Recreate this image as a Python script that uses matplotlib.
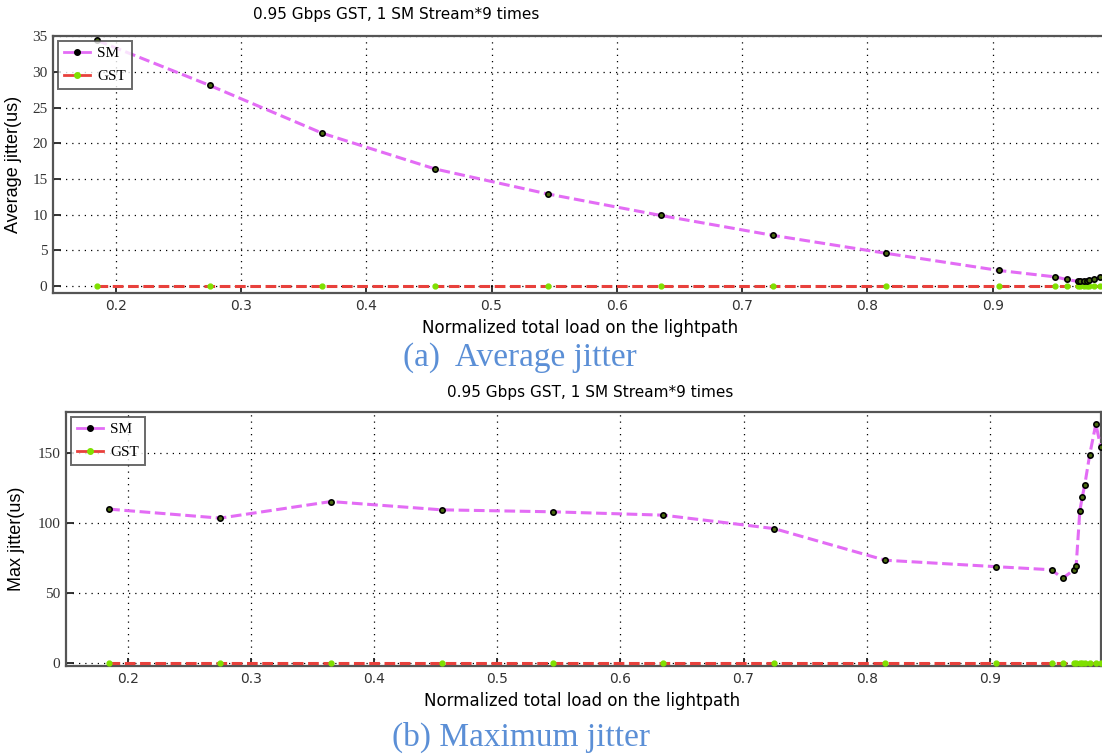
# Average / max jitter vs normalized load, SM vs GST
import matplotlib
matplotlib.use('Agg')
from matplotlib import pyplot as plt
from matplotlib.lines import Line2D

load = [0.185, 0.275, 0.365, 0.455, 0.545, 0.635, 0.725, 0.815, 0.905,
        0.950, 0.959, 0.968, 0.970, 0.973, 0.975, 0.977, 0.981, 0.986, 0.990]

avg_sm = [34.4, 28.1, 21.4, 16.4, 12.9, 9.9, 7.1, 4.6, 2.2,
          1.3, 0.94, 0.66, 0.66, 0.70, 0.74, 0.84, 0.98, 1.3, 1.6]
avg_gst = [0.0] * len(load)

max_sm = [109.8, 103.4, 115.2, 109.3, 107.9, 105.5, 95.9, 73.4, 68.8,
          66.6, 60.5, 66.4, 69.3, 108.6, 118.6, 127.1, 148.6, 170.5, 153.8]
max_gst = [0.5] * len(load)

title_txt = '0.95 Gbps GST, 1 SM Stream*9 times'
xlabel_txt = 'Normalized total load on the lightpath'
xticks = [0.2, 0.3, 0.4, 0.5, 0.6, 0.7, 0.8, 0.9]

SM_COL = '#e36cf5'
GST_COL = '#e8413c'
SPINE = '#555555'


def style_axes(ax, yticks, ylim):
    ax.set_xlim(0.15, 0.99)
    ax.set_ylim(*ylim)
    ax.set_xticks(xticks)
    ax.set_xticklabels([str(t) for t in xticks], fontsize=10, color='#333333',
                       family='DejaVu Sans')
    ax.set_yticks(yticks)
    ax.set_yticklabels([str(t) for t in yticks], fontsize=11, color='#333333',
                       family='Liberation Serif')
    ax.tick_params(direction='in', length=6, width=1.3, color='#222222', pad=4)
    ax.grid(True, linestyle=(0, (1, 4)), color='black', linewidth=0.9)
    for s in ax.spines.values():
        s.set_color(SPINE)
        s.set_linewidth(1.6)


def draw(ax, sm, gst):
    ax.plot(load, gst, color=GST_COL, lw=2.2, dashes=(3.5, 1.5), marker='o',
            ms=3.5, mfc='#7fe000', mec='#7fe000', zorder=3)
    ax.plot(load, sm, color=SM_COL, lw=2.2, dashes=(3.5, 1.5), marker='o',
            ms=3.8, mfc='#4a6a10', mec='black', mew=1.2, zorder=4)
    handles = [Line2D([], [], color=SM_COL, lw=2, marker='o', ms=4,
                      mfc='black', mec='black'),
               Line2D([], [], color=GST_COL, lw=2, marker='o', ms=4,
                      mfc='#7fe000', mec='#7fe000')]
    leg = ax.legend(handles, ['SM', 'GST'], loc='upper left', fancybox=False,
                    prop={'family': 'Liberation Serif', 'size': 11},
                    handlelength=1.7, handletextpad=0.5, borderaxespad=0.3,
                    labelspacing=0.6)
    leg.get_frame().set_edgecolor('#444444')
    leg.get_frame().set_linewidth(1.4)


fig = plt.figure(figsize=(11.02, 7.56), dpi=100)

ax1 = fig.add_axes([0.0481, 0.612, 0.955, 0.3403])
draw(ax1, avg_sm, avg_gst)
style_axes(ax1, [0, 5, 10, 15, 20, 25, 30, 35], (-1, 35))
ax1.set_ylabel('Average jitter(us)', fontsize=13, family='Liberation Sans',
               labelpad=7)

ax2 = fig.add_axes([0.0599, 0.119, 0.939, 0.336])
draw(ax2, max_sm, max_gst)
style_axes(ax2, [0, 50, 100, 150], (-2, 179))
ax2.set_ylabel('Max jitter(us)', fontsize=13, family='Liberation Sans',
               labelpad=9)

# titles and x labels placed in figure pixels (the original was cropped)
W, H = 1102.0, 756.0
fig.text(396 / W, 1 - 14 / H, title_txt, ha='center', va='center',
         fontsize=11, family='DejaVu Sans')
fig.text(590 / W, 1 - 392 / H, title_txt, ha='center', va='center',
         fontsize=11, family='DejaVu Sans')
fig.text(580 / W, 1 - 328 / H, xlabel_txt, ha='center', va='center',
         fontsize=12, family='DejaVu Sans')
fig.text(582 / W, 1 - 701 / H, xlabel_txt, ha='center', va='center',
         fontsize=12, family='DejaVu Sans')

fig.text(520 / W, 1 - 358 / H, '(a)  Average jitter', ha='center', va='center',
         fontsize=24, family='Liberation Serif', color='#5b8fd6')
fig.text(521 / W, 1 - 737 / H, '(b) Maximum jitter', ha='center', va='center',
         fontsize=24, family='Liberation Serif', color='#5b8fd6')

fig.savefig('out.png', dpi=100)
